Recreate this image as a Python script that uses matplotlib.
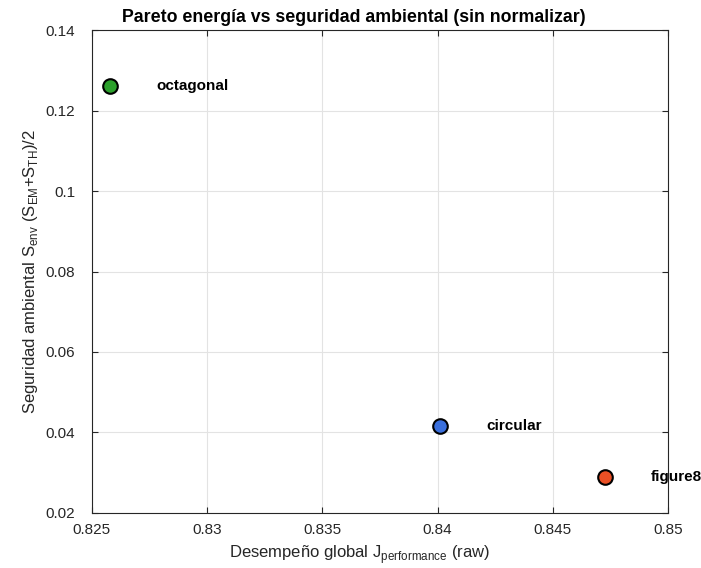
import matplotlib
matplotlib.use("Agg")
from matplotlib import pyplot as plt

plt.rcParams['font.family'] = ['Liberation Sans', 'DejaVu Sans']

names = ['octagonal', 'circular', 'figure8']
jPerf = [0.82578, 0.84010, 0.84726]
sEnv = [0.1261, 0.0415, 0.0288]
colors = ['#2ca02c', '#3a6fdc', '#ea5025']

fig = plt.figure(figsize=(7.01, 5.68), dpi=100)
ax = fig.add_axes([0.131, 0.097, 0.822, 0.850])

for x, y, c, n in zip(jPerf, sEnv, colors, names):
    ax.plot(x, y, 'o', markersize=10.5, markerfacecolor=c, markeredgecolor='k', markeredgewidth=1.5, zorder=3)
    ax.text(x + 0.002, y, n, fontsize=11, fontweight='bold', va='center', ha='left')

ax.set_xlim(0.825, 0.85)
ax.set_ylim(0.02, 0.14)
ax.set_xticks([0.825, 0.83, 0.835, 0.84, 0.845, 0.85])
ax.set_xticklabels(['0.825', '0.83', '0.835', '0.84', '0.845', '0.85'])
ax.set_yticks([0.02, 0.04, 0.06, 0.08, 0.1, 0.12, 0.14])
ax.set_yticklabels(['0.02', '0.04', '0.06', '0.08', '0.1', '0.12', '0.14'])
ax.tick_params(direction='in', labelsize=11, colors='#262626', length=4, top=True, right=True)
ax.tick_params(axis='y', pad=12)
ax.tick_params(axis='x', pad=7)
ax.grid(True, color='#e3e3e3', linewidth=0.8)
ax.set_axisbelow(True)
for s in ax.spines.values():
    s.set_color('#262626')
    s.set_linewidth(0.8)

ax.set_title('Pareto energía vs seguridad ambiental (sin normalizar)', fontsize=12.8, fontweight='bold', x=0.455)
ax.set_xlabel('Desempeño global J$_{\\mathregular{performance}}$ (raw)', fontsize=12, color='#262626')
ax.set_ylabel('Seguridad ambiental S$_{\\mathregular{env}}$ (S$_{\\mathregular{EM}}$+S$_{\\mathregular{TH}}$)/2', fontsize=12, color='#262626')
ax.xaxis.set_label_coords(0.465, -0.062)

plt.savefig('out.png', dpi=100)
